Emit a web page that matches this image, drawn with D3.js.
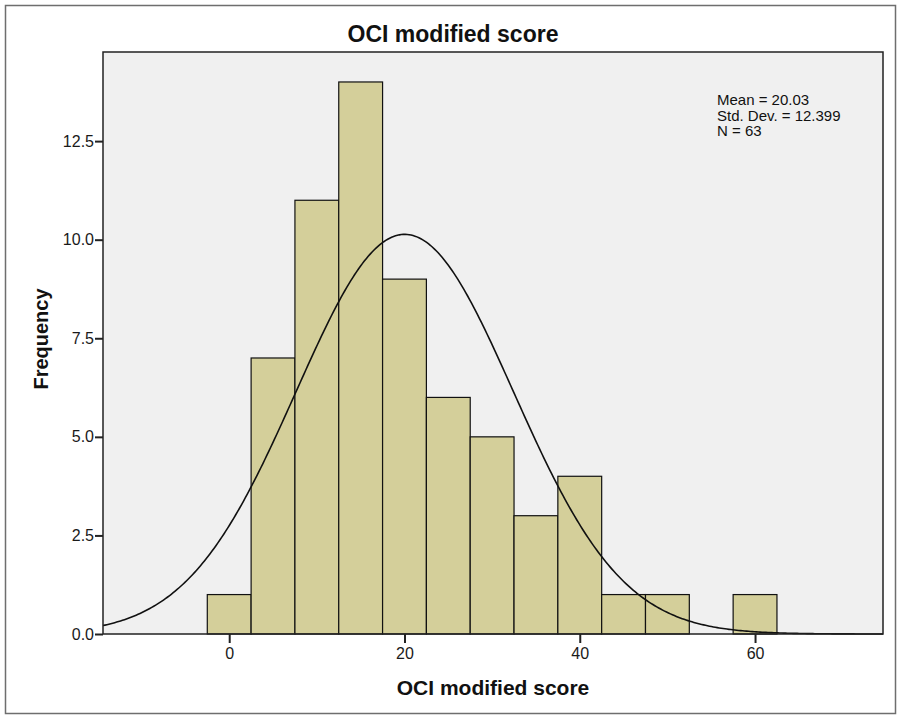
<!DOCTYPE html>
<html>
<head>
<meta charset="utf-8">
<script src="https://cdn.jsdelivr.net/npm/d3@7"></script>
<style>
  html, body { margin: 0; padding: 0; background: #fff; }
  svg { display: block; font-family: "Liberation Sans", Arial, sans-serif; }
</style>
</head>
<body>
<svg id="chart" width="900" height="715"></svg>
<script>
// Data
const binCenters = [0, 5, 10, 15, 20, 25, 30, 35, 40, 45, 50, 55, 60];
const frequencies = [1, 7, 11, 14, 9, 6, 5, 3, 4, 1, 1, 0, 1];
const binWidth = 5;
const xTicks = [0, 20, 40, 60];
const yTicks = [0, 2.5, 5, 7.5, 10, 12.5];
const statsLines = ["Mean = 20.03", "Std. Dev. = 12.399", "N = 63"];
const mean = 20.03, sd = 12.399, n = 63;

const svg = d3.select("#chart");
const plot = { left: 103, top: 52, right: 883, bottom: 634 };

// outer frame
svg.append("rect").attr("x", 5.5).attr("y", 5.5).attr("width", 890).attr("height", 708)
  .attr("fill", "#fff").attr("stroke", "#6e6e6e").attr("stroke-width", 1.5);

const x = d3.scaleLinear().domain([-14.4, 74.6]).range([plot.left, plot.right]);
const y = d3.scaleLinear().domain([0, 14.76]).range([plot.bottom, plot.top]);

// plot background
svg.append("rect").attr("x", plot.left).attr("y", plot.top)
  .attr("width", plot.right - plot.left).attr("height", plot.bottom - plot.top)
  .attr("fill", "#f0f0f0");

// bars
const bins = binCenters.map((c, i) => ({ c, f: frequencies[i] })).filter(d => d.f > 0);
svg.append("g").selectAll("rect").data(bins).join("rect")
  .attr("x", d => x(d.c - binWidth / 2))
  .attr("y", d => y(d.f))
  .attr("width", d => x(d.c + binWidth / 2) - x(d.c - binWidth / 2))
  .attr("height", d => y(0) - y(d.f))
  .attr("fill", "#d4cf9a")
  .attr("stroke", "#111")
  .attr("stroke-width", 1.2);

// normal curve (from reported mean, sd, N)
const [x0, x1] = x.domain();
const curvePts = d3.range(0, 401).map(i => {
  const v = x0 + (x1 - x0) * i / 400;
  const dens = n * binWidth / (sd * Math.sqrt(2 * Math.PI)) * Math.exp(-0.5 * ((v - mean) / sd) ** 2);
  return [v, dens];
});
svg.append("path").datum(curvePts)
  .attr("d", d3.line().x(d => x(d[0])).y(d => y(d[1])))
  .attr("fill", "none").attr("stroke", "#111").attr("stroke-width", 1.6);

// plot border
svg.append("rect").attr("x", plot.left).attr("y", plot.top)
  .attr("width", plot.right - plot.left).attr("height", plot.bottom - plot.top)
  .attr("fill", "none").attr("stroke", "#222").attr("stroke-width", 1.5);

// axes
const xAxis = svg.append("g").attr("transform", `translate(0,${plot.bottom})`)
  .call(d3.axisBottom(x).tickValues(xTicks).tickSize(9).tickSizeOuter(0).tickFormat(d3.format("d")));
const yAxis = svg.append("g").attr("transform", `translate(${plot.left},0)`)
  .call(d3.axisLeft(y).tickValues(yTicks).tickSize(8).tickSizeOuter(0).tickFormat(d3.format(".1f")));
[xAxis, yAxis].forEach(a => {
  a.select(".domain").remove();
  a.selectAll(".tick line").attr("stroke", "#222").attr("stroke-width", 2);
  a.selectAll(".tick text").attr("fill", "#1a1a1a").style("font-size", "16px")
    .style("font-family", "'Liberation Sans', Arial, sans-serif");
});
xAxis.selectAll(".tick text").attr("dy", "0.95em").attr("y", 10);
yAxis.selectAll(".tick text").attr("x", -9);

// title
svg.append("text").attr("x", 453).attr("y", 42).attr("text-anchor", "middle")
  .style("font-size", "23px").style("font-weight", "bold").attr("fill", "#111")
  .text("OCI modified score");

// x label
svg.append("text").attr("x", (plot.left + plot.right) / 2).attr("y", 695).attr("text-anchor", "middle")
  .style("font-size", "21px").style("font-weight", "bold").attr("fill", "#111")
  .text("OCI modified score");

// y label
svg.append("text").attr("transform", `translate(48,${(plot.top + plot.bottom) / 2 - 4}) rotate(-90)`)
  .attr("text-anchor", "middle")
  .style("font-size", "20px").style("font-weight", "bold").attr("fill", "#111")
  .text("Frequency");

// stats text
svg.append("g").selectAll("text").data(statsLines).join("text")
  .attr("x", 717).attr("y", (d, i) => 105 + i * 15.5)
  .style("font-size", "15px").attr("fill", "#111")
  .text(d => d);
</script>
</body>
</html>
